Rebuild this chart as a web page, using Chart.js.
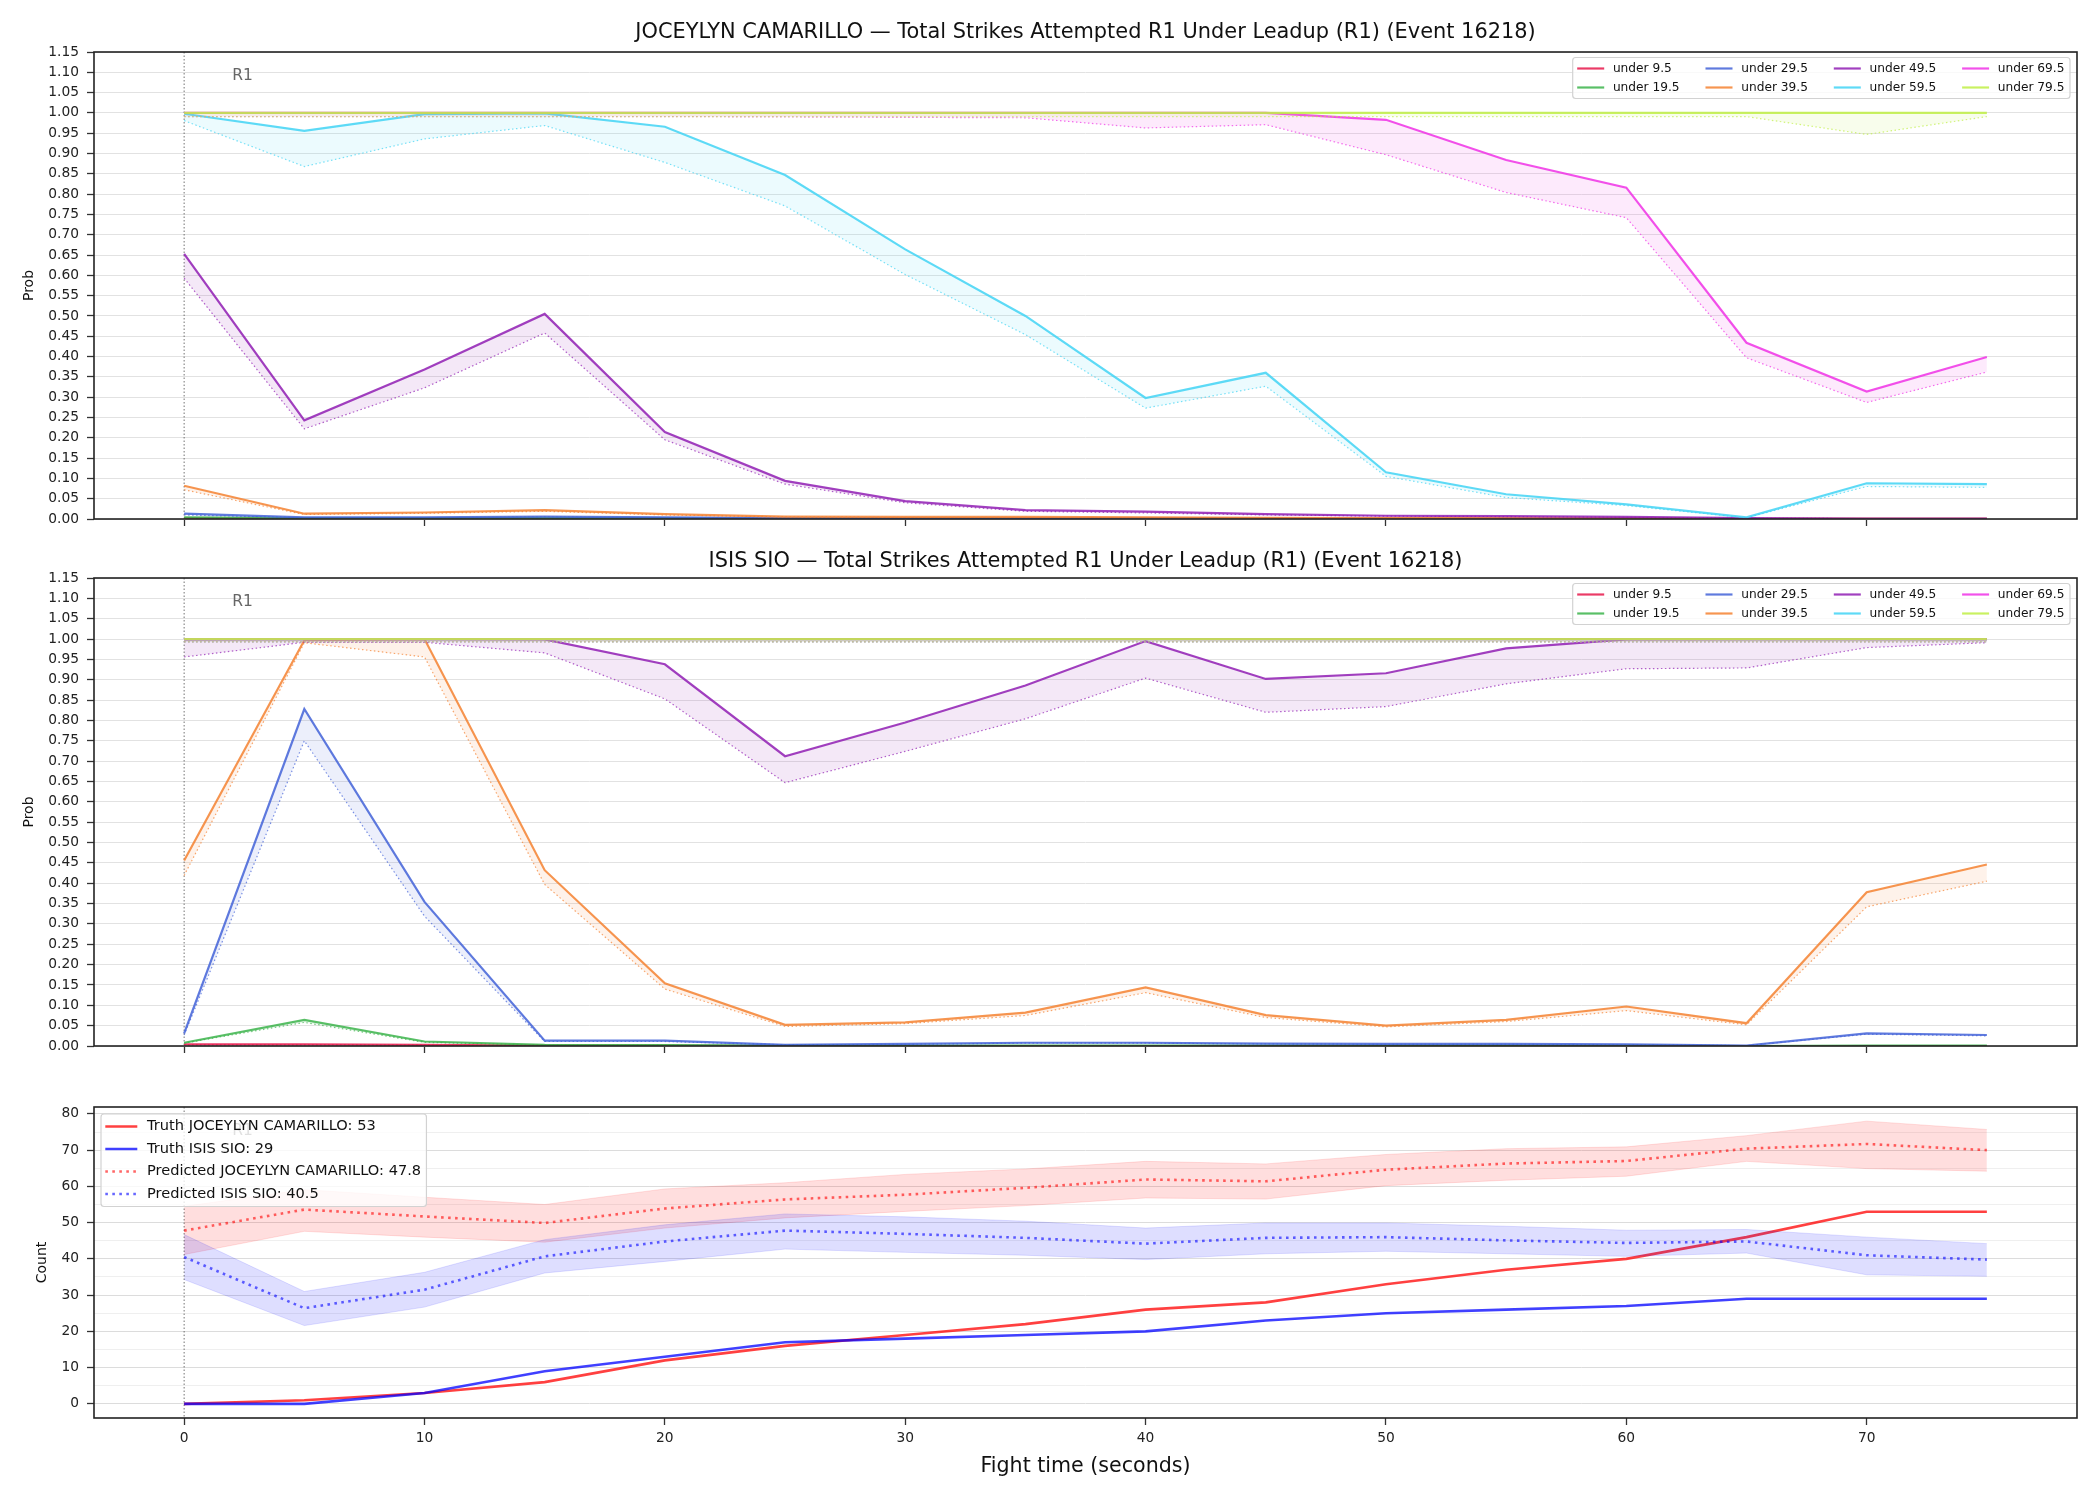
<!DOCTYPE html>
<html>
<head>
<meta charset="utf-8">
<title>Total Strikes Attempted R1 Under Leadup</title>
<script src="https://cdn.jsdelivr.net/npm/chart.js@4.4.1/dist/chart.umd.min.js"></script>
<style>
  html, body { margin: 0; padding: 0; background: #fff; }
  #wrap { position: relative; width: 2100px; height: 1500px; }
  canvas { position: absolute; left: 0px; }
</style>
</head>
<body>
<div id="wrap">
  <canvas id="probJoc" width="2100" height="540" style="top:0px"></canvas>
  <canvas id="probIsis" width="2100" height="526" style="top:540px"></canvas>
  <canvas id="counts" width="2100" height="434" style="top:1066px"></canvas>
</div>
<script>
// ---- data ----
const times = [0, 5, 10, 15, 20, 25, 30, 35, 40, 45, 50, 55, 60, 65, 70, 75];
const thresholdLabels = ['under 9.5', 'under 19.5', 'under 29.5', 'under 39.5',
                         'under 49.5', 'under 59.5', 'under 69.5', 'under 79.5'];
const fighterJoc = 'JOCEYLYN CAMARILLO';
const fighterIsis = 'ISIS SIO';
const eventId = 16218;
const roundLabel = 'R1';

// one row per threshold, solid line (prob) and dotted lower line
const jocProb = [
  [0.002, 0.001, 0.001, 0.001, 0.001, 0.000, 0.000, 0.000, 0.000, 0.000, 0.000, 0.000, 0.000, 0.000, 0.000, 0.000],
  [0.004, 0.002, 0.002, 0.003, 0.002, 0.001, 0.001, 0.001, 0.001, 0.001, 0.000, 0.000, 0.000, 0.000, 0.000, 0.000],
  [0.013, 0.004, 0.004, 0.006, 0.004, 0.002, 0.002, 0.002, 0.002, 0.001, 0.001, 0.001, 0.001, 0.000, 0.000, 0.000],
  [0.082, 0.013, 0.016, 0.022, 0.012, 0.006, 0.005, 0.005, 0.004, 0.003, 0.002, 0.002, 0.002, 0.001, 0.001, 0.001],
  [0.653, 0.243, 0.368, 0.505, 0.214, 0.094, 0.044, 0.022, 0.018, 0.012, 0.008, 0.007, 0.005, 0.002, 0.001, 0.001],
  [0.998, 0.956, 0.997, 0.999, 0.966, 0.847, 0.664, 0.500, 0.298, 0.360, 0.115, 0.061, 0.036, 0.004, 0.088, 0.086],
  [1.000, 1.000, 1.000, 1.000, 1.000, 1.000, 1.000, 1.000, 1.000, 1.000, 0.983, 0.884, 0.816, 0.434, 0.314, 0.399],
  [1.000, 1.000, 1.000, 1.000, 1.000, 1.000, 1.000, 1.000, 1.000, 1.000, 1.000, 1.000, 1.000, 1.000, 1.000, 1.000]
];
const jocProbLow = [
  [0.001, 0.001, 0.001, 0.001, 0.000, 0.000, 0.000, 0.000, 0.000, 0.000, 0.000, 0.000, 0.000, 0.000, 0.000, 0.000],
  [0.003, 0.002, 0.002, 0.002, 0.001, 0.001, 0.001, 0.001, 0.001, 0.000, 0.000, 0.000, 0.000, 0.000, 0.000, 0.000],
  [0.010, 0.003, 0.003, 0.005, 0.003, 0.002, 0.002, 0.001, 0.001, 0.001, 0.001, 0.001, 0.000, 0.000, 0.000, 0.000],
  [0.072, 0.011, 0.014, 0.019, 0.010, 0.005, 0.004, 0.004, 0.003, 0.002, 0.002, 0.002, 0.001, 0.001, 0.001, 0.001],
  [0.593, 0.222, 0.323, 0.458, 0.195, 0.086, 0.040, 0.019, 0.015, 0.010, 0.007, 0.006, 0.004, 0.002, 0.001, 0.001],
  [0.981, 0.868, 0.936, 0.969, 0.878, 0.771, 0.602, 0.454, 0.273, 0.327, 0.105, 0.053, 0.033, 0.003, 0.080, 0.078],
  [0.991, 0.991, 0.991, 0.991, 0.991, 0.990, 0.989, 0.988, 0.963, 0.971, 0.897, 0.804, 0.742, 0.397, 0.287, 0.362],
  [0.991, 0.991, 0.991, 0.991, 0.991, 0.991, 0.991, 0.991, 0.991, 0.991, 0.991, 0.991, 0.991, 0.991, 0.947, 0.991]
];

const isisProb = [
  [0.004, 0.004, 0.003, 0.001, 0.001, 0.000, 0.000, 0.000, 0.000, 0.000, 0.000, 0.000, 0.000, 0.000, 0.000, 0.000],
  [0.008, 0.064, 0.011, 0.003, 0.002, 0.001, 0.001, 0.001, 0.001, 0.001, 0.001, 0.001, 0.001, 0.000, 0.001, 0.001],
  [0.031, 0.828, 0.354, 0.013, 0.013, 0.003, 0.005, 0.008, 0.008, 0.006, 0.005, 0.005, 0.004, 0.001, 0.031, 0.027],
  [0.456, 0.997, 1.000, 0.432, 0.154, 0.052, 0.058, 0.082, 0.144, 0.076, 0.050, 0.064, 0.097, 0.056, 0.378, 0.446],
  [0.999, 1.000, 1.000, 0.999, 0.938, 0.712, 0.795, 0.886, 0.995, 0.902, 0.916, 0.977, 0.999, 1.000, 1.000, 1.000],
  [1.000, 1.000, 1.000, 1.000, 1.000, 1.000, 1.000, 1.000, 1.000, 1.000, 1.000, 1.000, 1.000, 1.000, 1.000, 1.000],
  [1.000, 1.000, 1.000, 1.000, 1.000, 1.000, 1.000, 1.000, 1.000, 1.000, 1.000, 1.000, 1.000, 1.000, 1.000, 1.000],
  [1.000, 1.000, 1.000, 1.000, 1.000, 1.000, 1.000, 1.000, 1.000, 1.000, 1.000, 1.000, 1.000, 1.000, 1.000, 1.000]
];
const isisProbLow = [
  [0.003, 0.003, 0.002, 0.001, 0.000, 0.000, 0.000, 0.000, 0.000, 0.000, 0.000, 0.000, 0.000, 0.000, 0.000, 0.000],
  [0.007, 0.058, 0.009, 0.002, 0.002, 0.001, 0.001, 0.001, 0.001, 0.001, 0.001, 0.001, 0.001, 0.000, 0.001, 0.001],
  [0.027, 0.750, 0.319, 0.011, 0.011, 0.003, 0.004, 0.007, 0.007, 0.005, 0.004, 0.004, 0.003, 0.001, 0.029, 0.025],
  [0.419, 0.991, 0.956, 0.397, 0.140, 0.048, 0.055, 0.075, 0.131, 0.070, 0.047, 0.060, 0.087, 0.052, 0.342, 0.405],
  [0.956, 0.992, 0.992, 0.966, 0.853, 0.647, 0.724, 0.804, 0.904, 0.820, 0.834, 0.890, 0.927, 0.929, 0.979, 0.991],
  [0.993, 0.993, 0.993, 0.993, 0.993, 0.993, 0.993, 0.993, 0.993, 0.993, 0.993, 0.993, 0.993, 0.993, 0.993, 0.993],
  [0.993, 0.993, 0.993, 0.993, 0.993, 0.993, 0.993, 0.993, 0.993, 0.993, 0.993, 0.993, 0.993, 0.993, 0.993, 0.993],
  [0.993, 0.993, 0.993, 0.993, 0.993, 0.993, 0.993, 0.993, 0.993, 0.993, 0.993, 0.993, 0.993, 0.993, 0.993, 0.993]
];

// counts panel
const truthJoc  = [0, 1, 3, 6, 12, 16, 19, 22, 26, 28, 33, 37, 40, 46, 53, 53];
const truthIsis = [0, 0, 3, 9, 13, 17, 18, 19, 20, 23, 25, 26, 27, 29, 29, 29];
const predJoc   = [47.8, 53.6, 51.7, 49.9, 53.9, 56.4, 57.7, 59.6, 61.9, 61.4, 64.6, 66.3, 67.0, 70.4, 71.7, 70.0];
const predJocHi = [54.5, 59.1, 57.0, 55.0, 59.3, 61.0, 63.3, 64.8, 66.9, 66.2, 68.8, 70.4, 70.9, 74.0, 78.0, 75.7];
const predJocLo = [41.2, 47.6, 46.0, 44.6, 48.5, 51.3, 53.1, 54.7, 56.8, 56.5, 60.2, 61.7, 62.8, 66.9, 64.9, 64.2];
const predIsis   = [40.5, 26.4, 31.5, 40.7, 44.8, 47.8, 46.9, 45.8, 44.2, 45.8, 46.0, 45.1, 44.4, 44.8, 41.0, 39.8];
const predIsisHi = [46.7, 31.0, 36.3, 45.3, 49.4, 52.4, 51.6, 50.4, 48.5, 49.9, 49.9, 49.0, 47.9, 48.1, 46.0, 44.2];
const predIsisLo = [34.3, 21.6, 26.7, 36.1, 39.3, 42.7, 41.8, 41.0, 39.8, 41.4, 42.1, 41.4, 40.7, 41.6, 35.6, 35.2];
const truthJocFinal = 53;
const truthIsisFinal = 29;
const predJocFinal = 47.8;
const predIsisFinal = 40.5;

// ---- style ----
const thresholdColors = ['#e6194b', '#3cb44b', '#4363d8', '#f58231', '#911eb4', '#42d4f4', '#f032e6', '#bfef45'];
const FONT = '"DejaVu Sans", "Liberation Sans", sans-serif';
Chart.defaults.font.family = FONT;
Chart.defaults.color = '#222';

function rgba(hex, a) {
  const n = parseInt(hex.slice(1), 16);
  return 'rgba(' + (n >> 16) + ',' + ((n >> 8) & 255) + ',' + (n & 255) + ',' + a + ')';
}
function pts(ys) {
  return times.map((t, i) => ({ x: t, y: ys[i] }));
}

function probDatasets(solid, low) {
  const sets = [];
  thresholdLabels.forEach((label, i) => {
    const c = thresholdColors[i];
    sets.push({
      label: label,
      data: pts(solid[i]),
      borderColor: rgba(c, 0.85),
      borderWidth: 2.2,
      pointRadius: 0,
      fill: false,
      legendEntry: true,
      order: -2 * i
    });
    sets.push({
      label: label + ' (low)',
      data: pts(low[i]),
      borderColor: rgba(c, 0.7),
      borderWidth: 1.2,
      borderDash: [1.5, 2.5],
      pointRadius: 0,
      fill: '-1',
      backgroundColor: rgba(c, 0.1),
      order: -2 * i - 1
    });
  });
  return sets;
}

// axes title centred on the plot area (like matplotlib), round marker, R1 text, frame
const framePlugin = {
  id: 'frame',
  beforeDatasetsDraw(chart) {
    const { ctx, chartArea: a, scales } = chart;
    const x0 = scales.x.getPixelForValue(times[0]);
    ctx.save();
    ctx.strokeStyle = 'rgba(70,70,70,0.75)';
    ctx.lineWidth = 1;
    ctx.setLineDash([1.5, 2]);
    ctx.beginPath();
    ctx.moveTo(x0, a.top);
    ctx.lineTo(x0, a.bottom);
    ctx.stroke();
    ctx.restore();
  },
  afterDatasetsDraw(chart, args, o) {
    const { ctx, chartArea: a, scales } = chart;
    ctx.save();
    ctx.fillStyle = '#666';
    ctx.font = '15.5px ' + FONT;
    ctx.textBaseline = 'middle';
    ctx.fillText(roundLabel, scales.x.getPixelForValue(times[0] + 2), a.top + 23.5);
    ctx.strokeStyle = '#222';
    ctx.lineWidth = 1.6;
    ctx.strokeRect(a.left, a.top, a.right - a.left, a.bottom - a.top);
    if (o.title) {
      ctx.fillStyle = '#111';
      ctx.font = '20.9px ' + FONT;
      ctx.textAlign = 'center';
      ctx.fillText(o.title, (a.left + a.right) / 2, o.titleY);
    }
    ctx.restore();
  }
};

// matplotlib-like legend box, filled column by column
const boxLegend = {
  id: 'boxLegend',
  afterDraw(chart, args, o) {
    const { ctx, chartArea: a } = chart;
    const items = chart.data.datasets.filter(d => d.legendEntry);
    const rows = Math.ceil(items.length / o.cols);
    ctx.save();
    ctx.font = o.fontSize + 'px ' + FONT;
    let lastW = 0;
    items.forEach((d, k) => {
      if (Math.floor(k / rows) === o.cols - 1) lastW = Math.max(lastW, ctx.measureText(d.label).width);
    });
    const w = o.pad + (o.cols - 1) * o.colPitch + o.textOffset + lastW + o.pad + 1;
    const h = 2 * o.rowTop + (rows - 1) * o.rowGap;
    const left = o.align === 'right' ? a.right - o.marginX - w : a.left + o.marginX;
    const top = a.top + o.marginY;
    ctx.fillStyle = 'rgba(255,255,255,0.8)';
    ctx.strokeStyle = '#d2d2d2';
    ctx.lineWidth = 1.2;
    ctx.beginPath();
    ctx.roundRect(left, top, w, h, 3);
    ctx.fill();
    ctx.stroke();
    ctx.textBaseline = 'middle';
    items.forEach((d, k) => {
      const col = Math.floor(k / rows), row = k % rows;
      const x = left + o.pad + col * o.colPitch;
      const y = top + o.rowTop + row * o.rowGap;
      ctx.strokeStyle = d.borderColor;
      ctx.lineWidth = d.borderWidth;
      ctx.setLineDash(d.borderDash || []);
      ctx.beginPath();
      ctx.moveTo(x, y);
      ctx.lineTo(x + o.lineLen, y);
      ctx.stroke();
      ctx.setLineDash([]);
      ctx.fillStyle = '#111';
      ctx.fillText(d.label, x + o.textOffset, y);
    });
    ctx.restore();
  }
};

function xScale(showLabels, axisHeight) {
  return {
    type: 'linear',
    min: -3.75,
    max: 78.75,
    border: { display: false },
    grid: { drawOnChartArea: false, drawTicks: true, tickLength: 7, tickColor: '#333', tickWidth: 1.3 },
    ticks: {
      display: showLabels, stepSize: 10, includeBounds: false, padding: 5,
      font: { size: 13.8 }, color: '#222', maxRotation: 0, autoSkip: false
    },
    title: {
      display: showLabels, text: 'Fight time (seconds)', font: { size: 20.6 },
      color: '#111', padding: { top: 0, bottom: 21 }
    },
    afterFit(scale) { scale.height = axisHeight; }
  };
}

function probChart(id, title, areaTop, titleY, solid, low, axisHeight) {
  return new Chart(document.getElementById(id), {
    type: 'line',
    data: { datasets: probDatasets(solid, low) },
    plugins: [framePlugin, boxLegend],
    options: {
      responsive: false,
      animation: false,
      devicePixelRatio: 1,
      events: [],
      layout: { padding: { left: 0, right: 23, top: areaTop, bottom: 0 } },
      elements: { line: { tension: 0 } },
      scales: {
        x: xScale(false, axisHeight),
        y: {
          type: 'linear',
          min: 0,
          max: 1.15,
          border: { display: false },
          grid: { color: '#e2e2e2', lineWidth: 1, tickLength: 7, tickColor: '#333', tickWidth: 1.3 },
          ticks: {
            stepSize: 0.05, autoSkip: false, padding: 8, font: { size: 13.8 }, color: '#222',
            callback: v => v.toFixed(2)
          },
          title: { display: true, text: 'Prob', font: { size: 14 }, color: '#111', padding: { top: 20.5, bottom: 0 } },
          afterFit(scale) { scale.width = 94; }
        }
      },
      plugins: {
        legend: { display: false },
        tooltip: { enabled: false },
        title: { display: false },
        frame: { title: title, titleY: titleY },
        boxLegend: {
          cols: 4, fontSize: 12.2, pad: 4.5, colPitch: 128.3, textOffset: 35.7, lineLen: 27,
          rowTop: 11, rowGap: 19, align: 'right', marginX: 7, marginY: 5.5
        }
      }
    }
  });
}

probChart('probJoc', fighterJoc + ' \u2014 Total Strikes Attempted R1 Under Leadup (R1) (Event ' + eventId + ')',
  52, 33, jocProb, jocProbLow, 21);
probChart('probIsis', fighterIsis + ' \u2014 Total Strikes Attempted R1 Under Leadup (R1) (Event ' + eventId + ')',
  38, 21.5, isisProb, isisProbLow, 20);

// counts panel
const RED = '255,0,0', BLUE = '0,0,255';
new Chart(document.getElementById('counts'), {
  type: 'line',
  data: {
    datasets: [
      { label: 'Truth ' + fighterJoc + ': ' + truthJocFinal, data: pts(truthJoc),
        borderColor: 'rgba(' + RED + ',0.75)', borderWidth: 2.6, pointRadius: 0, fill: false, legendEntry: true, order: 0 },
      { label: 'Truth ' + fighterIsis + ': ' + truthIsisFinal, data: pts(truthIsis),
        borderColor: 'rgba(' + BLUE + ',0.75)', borderWidth: 2.6, pointRadius: 0, fill: false, legendEntry: true, order: -1 },
      { label: 'Predicted ' + fighterJoc + ': ' + predJocFinal, data: pts(predJoc),
        borderColor: 'rgba(' + RED + ',0.6)', borderWidth: 2.6, borderDash: [2.6, 4.4], pointRadius: 0, fill: false, legendEntry: true, order: -2 },
      { label: 'Predicted ' + fighterIsis + ': ' + predIsisFinal, data: pts(predIsis),
        borderColor: 'rgba(' + BLUE + ',0.6)', borderWidth: 2.6, borderDash: [2.6, 4.4], pointRadius: 0, fill: false, legendEntry: true, order: -3 },
      { label: 'band hi J', data: pts(predJocHi), borderColor: 'rgba(' + RED + ',0.12)', borderWidth: 1, pointRadius: 0, fill: false, order: -4 },
      { label: 'band lo J', data: pts(predJocLo), borderColor: 'rgba(' + RED + ',0.12)', borderWidth: 1, pointRadius: 0,
        fill: '-1', backgroundColor: 'rgba(' + RED + ',0.13)', order: -5 },
      { label: 'band hi I', data: pts(predIsisHi), borderColor: 'rgba(' + BLUE + ',0.12)', borderWidth: 1, pointRadius: 0, fill: false, order: -6 },
      { label: 'band lo I', data: pts(predIsisLo), borderColor: 'rgba(' + BLUE + ',0.12)', borderWidth: 1, pointRadius: 0,
        fill: '-1', backgroundColor: 'rgba(' + BLUE + ',0.13)', order: -7 }
    ]
  },
  plugins: [framePlugin, boxLegend],
  options: {
    responsive: false,
    animation: false,
    devicePixelRatio: 1,
    events: [],
    layout: { padding: { left: 0, right: 23, top: 41, bottom: 0 } },
    elements: { line: { tension: 0 } },
    scales: {
      x: xScale(true, 82),
      y: {
        type: 'linear',
        min: -3.9,
        max: 81.9,
        border: { display: false },
        grid: {
          color: ctx => (ctx.tick && ctx.tick.value % 10 === 0) ? '#dcdcdc' : '#efefef',
          tickColor: ctx => (ctx.tick && ctx.tick.value % 10 === 0) ? '#333' : 'rgba(0,0,0,0)',
          lineWidth: 1, tickLength: 7, tickWidth: 1.3
        },
        ticks: {
          stepSize: 5, includeBounds: false, autoSkip: false, padding: 8, font: { size: 13.8 }, color: '#222',
          callback: v => (v % 10 === 0 ? String(v) : '')
        },
        title: { display: true, text: 'Count', font: { size: 14 }, color: '#111', padding: { top: 33.6, bottom: 0 } },
        afterFit(scale) { scale.width = 94; }
      }
    },
    plugins: {
      legend: { display: false },
      tooltip: { enabled: false },
      title: { display: false },
      frame: { title: '' },
      boxLegend: {
        cols: 1, fontSize: 14.6, pad: 4.3, colPitch: 0, textOffset: 41.7, lineLen: 32,
        rowTop: 12.5, rowGap: 22.5, align: 'left', marginX: 7, marginY: 7
      }
    }
  }
});
</script>
</body>
</html>
